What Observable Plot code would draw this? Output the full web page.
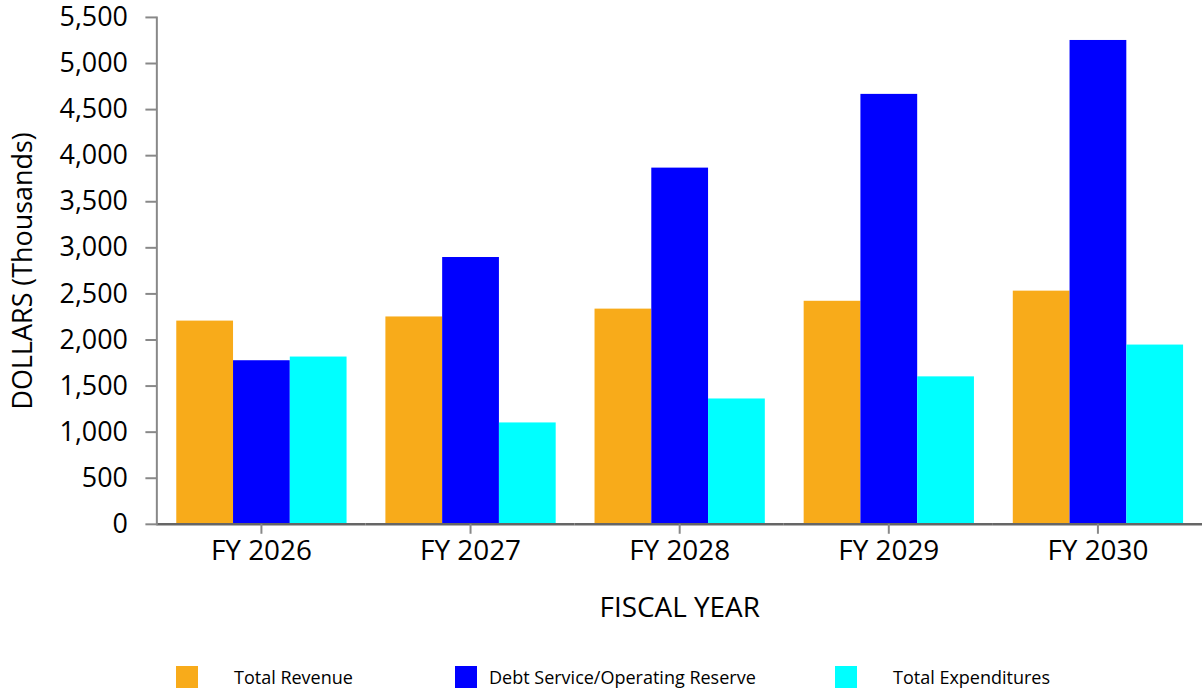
<!DOCTYPE html>
<html><head><meta charset="utf-8">
<script src="https://cdn.jsdelivr.net/npm/d3@7"></script>
<script src="https://cdn.jsdelivr.net/npm/@observablehq/plot@0.6"></script>
<style>
html,body{margin:0;padding:0;background:#fff;overflow:hidden;}
body{font-family:"Open Sans",sans-serif;position:relative;width:1202px;height:691px;}
#chart{position:absolute;left:0;top:0;}
#legend{position:absolute;top:666px;left:0;width:1202px;height:22px;}
.item{position:absolute;top:0;display:flex;align-items:center;height:22px;font-size:18px;color:#000;white-space:nowrap;}
.sw{width:22px;height:22px;flex:none;}
.item:nth-child(1){left:176px;} .item:nth-child(1) span{margin-left:36px;}
.item:nth-child(2){left:455px;} .item:nth-child(2) span{margin-left:12px;}
.item:nth-child(3){left:835px;} .item:nth-child(3) span{margin-left:36px;}
</style></head><body>
<div id="chart"></div>
<div id="legend"></div>
<script>
const years = ["FY 2026", "FY 2027", "FY 2028", "FY 2029", "FY 2030"];
const seriesNames = ["Total Revenue", "Debt Service/Operating Reserve", "Total Expenditures"];
const seriesColors = ["#F8AB1A", "#0000FF", "#00FFFF"];
const totalRevenue = [2205, 2250, 2335, 2420, 2530];
const debtService = [1775, 2895, 3865, 4665, 5250];
const totalExpenditures = [1815, 1100, 1360, 1600, 1945];
const yTicks = [0, 500, 1000, 1500, 2000, 2500, 3000, 3500, 4000, 4500, 5000, 5500];
const yLabel = "DOLLARS (Thousands)";
const xLabel = "FISCAL YEAR";

const seriesValues = [totalRevenue, debtService, totalExpenditures];
const rows = [];
years.forEach((y, i) => seriesNames.forEach((s, k) => rows.push({year: y, series: s, value: seriesValues[k][i]})));

const chart = Plot.plot({
  width: 1207,
  height: 640,
  marginLeft: 157,
  marginRight: 0,
  marginTop: 17,
  marginBottom: 114,
  style: {fontFamily: "'Open Sans', sans-serif", fontSize: "27px", color: "#000", background: "#fff", overflow: "visible"},
  fx: {domain: years, padding: 0, label: null},
  x: {domain: seriesNames, paddingInner: 0, paddingOuter: 0.333, axis: null},
  y: {domain: [0, 5500]},
  color: {domain: seriesNames, range: seriesColors},
  marks: [
    Plot.barY(rows, {fx: "year", x: "series", y: "value", fill: "series"}),
    Plot.ruleY([0], {stroke: "#666", strokeWidth: 2.5}),
    Plot.frame({anchor: "left", facetAnchor: "left", stroke: "#888", strokeWidth: 2}),
    Plot.axisY({ticks: yTicks, tickFormat: d3.format(","), tickSize: 11, tickPadding: 18, stroke: "#888", strokeWidth: 2, fill: "#000", fontSize: 27,
      label: yLabel, labelAnchor: "center", labelArrow: "none", labelOffset: 145}),
    Plot.axisFx({anchor: "bottom", tickSize: 10, tickPadding: 6, stroke: "#888", strokeWidth: 2, fill: "#000", fontSize: 28,
      label: xLabel, labelAnchor: "center", labelArrow: "none", labelOffset: 93})
  ]
});
document.getElementById("chart").appendChild(chart);

const legend = document.getElementById("legend");
seriesNames.forEach((s, k) => {
  const it = document.createElement("div");
  it.className = "item";
  const sw = document.createElement("div");
  sw.className = "sw";
  sw.style.background = seriesColors[k];
  const t = document.createElement("span");
  t.textContent = s;
  it.appendChild(sw);
  it.appendChild(t);
  legend.appendChild(it);
});
</script>
</body></html>
